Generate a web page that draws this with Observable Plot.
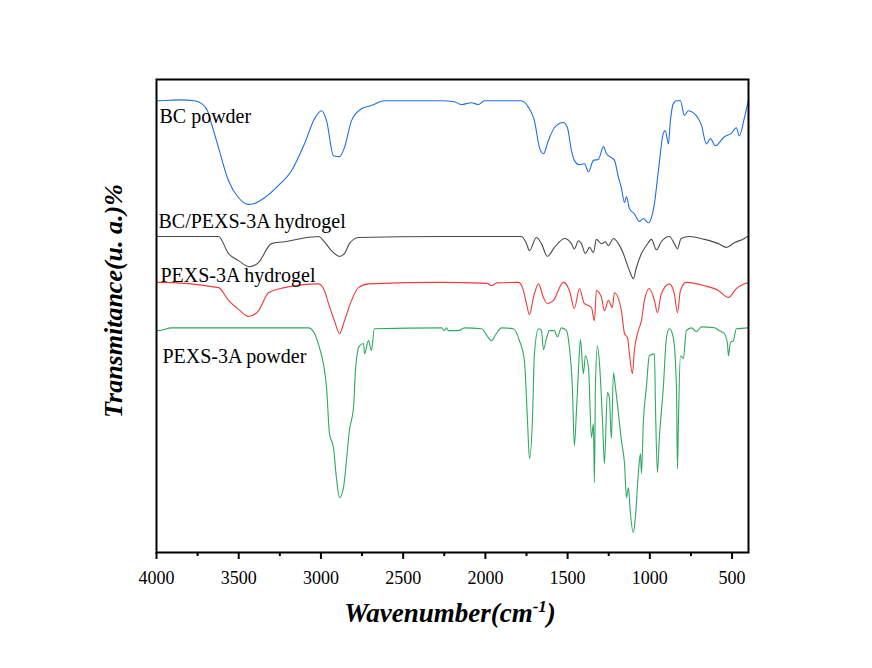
<!DOCTYPE html>
<html><head><meta charset="utf-8">
<script src="https://cdn.jsdelivr.net/npm/d3@7"></script>
<script src="https://cdn.jsdelivr.net/npm/@observablehq/plot@0.6"></script>
<style>html,body{margin:0;padding:0;background:#fff;}</style>
</head><body><div id="chart"></div>
<script>
// Series names and colours
const seriesNames = ["BC powder", "BC/PEXS-3A hydrogel", "PEXS-3A hydrogel", "PEXS-3A powder"];
const seriesColors = ["#1f6fe0", "#4a4a4a", "#f03a3a", "#2ea862"];

// [wavenumber (cm-1), transmittance (a.u., offset)]
const bcPowder = [
[4000,95.1],[3988,95.1],[3854,95.3],[3769,95.1],[3726,94.5],[3690,93.0],[3666,90.3],[3623,85.2],[3562,78.2],[3501,74.6],[3441,73.2],[3404,73.4],[3343,74.6],[3258,77.2],[3179,80.3],[3100,86.0],[3039,91.3],[2997,93.0],[2966,90.9],[2924,83.5],[2887,83.3],[2857,85.2],[2814,90.9],[2754,93.4],[2693,94.1],[2614,95.1],[2267,95.1],[2188,94.9],[2146,94.3],[2085,94.7],[2042,94.3],[2006,95.1],[1781,95.1],[1738,93.7],[1702,90.9],[1671,85.2],[1647,83.9],[1617,86.7],[1580,89.4],[1526,90.5],[1501,89.4],[1477,84.6],[1459,82.5],[1428,81.6],[1398,81.8],[1373,80.1],[1343,82.5],[1313,82.7],[1282,85.4],[1264,83.9],[1234,83.1],[1215,82.5],[1191,78.9],[1173,76.7],[1154,73.6],[1142,74.8],[1124,72.3],[1094,71.2],[1063,69.6],[1039,70.2],[1009,69.3],[984,71.2],[972,73.4],[948,80.3],[918,88.2],[906,88.8],[887,86.0],[875,90.9],[857,94.5],[838,95.1],[814,95.1],[790,92.0],[766,93.0],[729,92.4],[686,89.9],[656,86.0],[632,87.1],[601,85.6],[547,87.5],[504,88.2],[474,89.4],[456,87.7],[425,91.5],[401,95.1]
];
const bcPexsHydrogel = [
[4000,66.4],[3988,66.4],[3623,66.4],[3562,62.8],[3501,61.3],[3435,60.0],[3380,60.9],[3301,64.9],[3222,65.3],[3118,66.0],[3015,66.4],[2979,65.3],[2936,63.4],[2887,62.2],[2857,62.8],[2827,64.9],[2772,66.2],[2267,66.4],[1781,66.4],[1750,64.9],[1732,63.4],[1690,66.2],[1659,64.9],[1623,62.2],[1580,64.1],[1519,66.0],[1477,64.9],[1459,63.8],[1434,65.5],[1416,64.9],[1392,62.8],[1367,64.1],[1343,63.0],[1325,65.8],[1294,64.9],[1270,65.3],[1252,64.5],[1221,66.0],[1191,64.9],[1161,62.8],[1142,60.9],[1124,59.2],[1100,57.5],[1082,59.8],[1051,62.8],[1021,64.5],[990,65.8],[960,63.6],[930,65.3],[881,66.4],[851,64.9],[832,63.8],[810,66.0],[760,66.4],[668,65.8],[583,64.9],[534,64.1],[486,65.1],[425,66.0],[400,66.6]
];
const pexsHydrogel = [
[4000,56.7],[3988,56.7],[3623,55.6],[3562,52.9],[3501,51.0],[3441,49.5],[3380,50.7],[3319,54.5],[3222,55.6],[3015,56.4],[2979,55.0],[2954,52.2],[2918,48.6],[2887,45.9],[2857,48.6],[2814,52.9],[2772,55.6],[2711,56.4],[2267,56.7],[1990,56.5],[1963,56.0],[1930,56.6],[1799,56.7],[1769,55.0],[1750,52.2],[1732,49.9],[1708,53.5],[1677,56.4],[1647,53.5],[1623,52.2],[1586,52.9],[1526,56.7],[1489,55.0],[1459,51.2],[1428,55.4],[1398,52.2],[1373,51.8],[1355,51.4],[1337,48.6],[1325,55.0],[1294,53.5],[1276,50.7],[1252,52.9],[1228,51.4],[1215,54.5],[1173,50.7],[1154,45.9],[1136,45.0],[1124,41.6],[1106,37.4],[1094,42.3],[1070,46.5],[1051,48.6],[1033,52.9],[1003,55.4],[972,52.9],[954,50.3],[930,54.3],[881,56.4],[851,54.3],[832,50.3],[814,55.0],[778,56.7],[668,56.0],[583,55.0],[522,53.5],[474,55.4],[400,56.7]
];
const pexsPowder = [
[4000,46.5],[3988,46.5],[3909,47.1],[3076,47.1],[3039,45.9],[3009,42.9],[2985,39.5],[2966,34.5],[2948,24.7],[2924,21.8],[2906,15.4],[2887,11.2],[2863,13.3],[2845,19.0],[2827,25.4],[2802,30.2],[2790,38.1],[2766,43.3],[2741,43.8],[2735,41.6],[2711,44.4],[2693,42.3],[2675,46.9],[2267,47.1],[2249,46.5],[2237,47.1],[2225,46.5],[2164,46.5],[2127,47.1],[2024,46.9],[1981,45.0],[1963,44.4],[1933,45.9],[1902,47.1],[1829,46.9],[1793,44.4],[1763,40.2],[1744,27.5],[1732,19.5],[1714,27.5],[1702,41.6],[1677,46.9],[1659,46.5],[1647,42.5],[1629,44.8],[1611,46.5],[1580,46.5],[1562,45.2],[1538,47.1],[1507,46.5],[1489,42.9],[1471,34.5],[1459,22.2],[1446,29.6],[1434,38.1],[1422,44.6],[1404,37.4],[1392,41.2],[1373,38.7],[1355,23.9],[1343,26.8],[1337,14.4],[1331,34.5],[1319,43.3],[1306,39.5],[1288,27.5],[1276,18.4],[1258,33.4],[1246,32.3],[1234,23.7],[1221,37.6],[1209,34.5],[1191,29.0],[1173,23.3],[1154,18.4],[1142,11.2],[1130,13.3],[1118,7.8],[1100,3.8],[1088,7.0],[1070,16.3],[1057,20.5],[1051,16.3],[1039,27.5],[1021,34.5],[1003,41.2],[972,41.6],[966,31.1],[954,16.5],[942,23.9],[918,34.5],[899,45.0],[881,46.9],[857,45.0],[838,34.5],[832,17.3],[826,27.5],[814,41.2],[796,40.6],[778,46.5],[747,47.1],[717,46.3],[686,47.3],[607,47.1],[577,46.5],[547,45.9],[528,43.8],[522,41.2],[510,44.0],[492,44.4],[474,46.9],[400,47.1]
];

// Curve label positions [wavenumber, transmittance]
const labelX = [3982, 3988, 3976, 3964];
const labelY = [91.8, 69.6, 58.2, 41.1];

// Axis ticks
const xTicks = [4000, 3500, 3000, 2500, 2000, 1500, 1000, 500];
const xMinorTicks = [3750, 3250, 2750, 2250, 1750, 1250, 750];

const allSeries = [bcPowder, bcPexsHydrogel, pexsHydrogel, pexsPowder];
const rows = allSeries.flatMap((s, i) => s.map(([wn, t]) => ({series: seriesNames[i], wn, t})));
const labelRows = seriesNames.map((name, i) => ({name, x: labelX[i], y: labelY[i]}));

const serif = "'Liberation Serif','Times New Roman',serif";

const plot = Plot.plot({
  width: 872,
  height: 668,
  marginLeft: 156,
  marginRight: 124,
  marginTop: 79,
  marginBottom: 116,
  style: {fontFamily: serif, background: "white", color: "black", overflow: "visible"},
  x: {domain: [4000, 400]},
  y: {domain: [-0.4, 99.6], axis: null},
  color: {domain: seriesNames, range: seriesColors},
  marks: [
    Plot.line(rows, {x: "wn", y: "t", z: "series", stroke: "series", strokeWidth: 1.1, curve: "monotone-x"}),
    Plot.text(labelRows, {x: "x", y: "y", text: "name", textAnchor: "start", fontSize: 20, fill: "black", fontFamily: serif}),
    Plot.axisX(xMinorTicks, {anchor: "bottom", tickSize: 4, text: null, strokeWidth: 2, label: null}),
    Plot.axisX(xTicks, {anchor: "bottom", tickSize: 7, tickPadding: 12, strokeWidth: 2, fontSize: 18, tickFormat: d => String(d), label: null}),
    Plot.frame({stroke: "black", strokeWidth: 2})
  ]
});

const svg = d3.select(plot);
svg.selectAll("text").style("font-family", serif);
const xt = svg.append("text")
  .attr("x", 450).attr("y", 622)
  .attr("text-anchor", "middle")
  .style("font-family", serif).style("font-weight", "bold").style("font-style", "italic")
  .style("font-size", "27px").attr("fill", "black");
xt.append("tspan").text("Wavenumber(cm");
xt.append("tspan").attr("dy", -10).style("font-size", "17px").text("-1");
xt.append("tspan").attr("dy", 10).text(")");

svg.append("text")
  .attr("transform", "translate(122,301) rotate(-90)")
  .attr("text-anchor", "middle")
  .style("font-family", serif).style("font-weight", "bold").style("font-style", "italic")
  .style("font-size", "26px").attr("fill", "black")
  .text("Transmitance(u. a.)%");

document.getElementById("chart").appendChild(plot);
</script>
</body></html>
